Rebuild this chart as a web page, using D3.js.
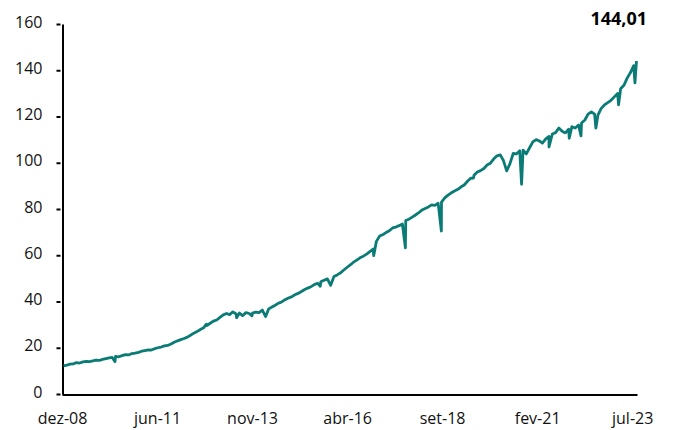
<!DOCTYPE html>
<html>
<head>
<meta charset="utf-8">
<script src="https://cdn.jsdelivr.net/npm/d3@7"></script>
<style>
  body { margin: 0; background: #fff; }
  svg { display: block; font-family: "Open Sans", "Noto Sans", sans-serif; }
</style>
</head>
<body>
<svg id="chart" width="674" height="430"></svg>
<script>
// Monthly values, one per month starting Dec 2008 (plotted mid-month)
const startMonth = "2008-12";
const monthlyValues = [
  12.2,12.5,12.9,13.0,13.6,13.4,13.9,14.1,14.0,14.3,14.6,14.5,15.0,15.3,
  15.6,15.8,16.3,16.1,16.6,17.0,16.9,17.5,17.7,18.0,18.5,
  18.8,19.1,19.0,19.6,20.0,20.3,20.8,21.0,21.6,22.4,
  23.0,23.5,24.0,24.6,25.4,
  26.3,27.0,27.9,28.6,29.6,
  30.6,31.5,32.0,33.1,34.2,
  34.8,34.3,35.5,34.6,35.0,33.9,35.2,34.8,35.0,35.4,35.2,
  36.3,33.5,36.8,37.6,38.4,39.3,39.8,40.8,41.5,
  42.0,42.9,43.5,44.3,45.2,
  45.8,46.4,47.3,47.9,48.5,
  49.2,49.8,47.0,50.8,51.5,
  52.4,53.6,54.7,55.8,57.0,
  57.9,58.9,59.6,60.5,61.6,62.7,
  66.0,68.3,69.0,69.8,70.6,71.8,72.2,72.8,
  73.5,75.0,75.6,76.5,77.4,78.4,79.6,80.2,80.9,
  81.8,81.6,82.5,83.0,84.8,86.0,87.0,87.8,
  88.5,89.6,90.4,92.0,93.3,94.6,96.0,
  96.6,97.5,99.0,99.8,101.6,103.0,103.4,101.0,96.5,99.5,104.0,
  103.8,105.2,105.5,103.8,106.5,109.0,110.0,
  109.4,108.5,110.3,111.4,112.4,113.0,115.0,
  113.6,112.9,114.5,115.6,115.0,116.3,117.2,118.5,
  121.0,122.0,121.0,120.6,123.5,125.0,126.0,127.0,
  128.5,130.0,132.0,133.5,136.6,139.0,142.0,144.01
];
// One-day drops
const spikeDates = [
  "2010-04-10","2012-08-10","2013-05-20","2013-10-10","2015-07-10","2016-11-20",
  "2017-09-12","2018-08-14","2019-06-10","2020-09-01","2021-05-15","2021-11-20",
  "2022-03-10","2022-07-27","2023-02-24","2023-07-27"
];
const spikeValues = [
  14.0, 30.2, 33.0, 33.8, 46.6, 59.8,
  63.2, 70.5, 93.4, 90.7, 106.8, 110.6,
  111.6, 115.0, 125.0, 134.5
];

const tickLabels = ["dez-08","jun-11","nov-13","abr-16","set-18","fev-21","jul-23"];
const firstTickDate = "2008-12-01";
const lastTickDate = "2023-07-01";
const yTicks = [0,20,40,60,80,100,120,140,160];
const lastValueLabel = "144,01";

const parse = d3.timeParse("%Y-%m-%d");
const base = d3.timeParse("%Y-%m")(startMonth);
const series = monthlyValues.map((v, i) => {
  const d = d3.timeMonth.offset(base, i);
  d.setDate(15);
  if (i === monthlyValues.length - 1) d.setDate(10);
  return { date: d, value: v };
});
spikeDates.forEach((s, i) => series.push({ date: parse(s), value: spikeValues[i] }));
series.sort((a, b) => a.date - b.date);

const svg = d3.select("#chart");
const x = d3.scaleTime()
  .domain([parse("2008-12-01"), parse("2023-08-15")])
  .range([62, 637]);
const y = d3.scaleLinear().domain([0, 160]).range([394, 24]);

// tick positions: equally spaced between the first and last labels
const t0 = parse(firstTickDate).getTime(), t1 = parse(lastTickDate).getTime();
const tickDates = tickLabels.map((_, i) => new Date(t0 + i * (t1 - t0) / (tickLabels.length - 1)));

// Y axis
const yAxis = svg.append("g").attr("transform", "translate(62.5,0)")
  .call(d3.axisLeft(y).tickValues(yTicks).tickSize(6).tickSizeOuter(0).tickPadding(14));
yAxis.select(".domain").attr("stroke", "#000").attr("stroke-width", 2);
yAxis.selectAll(".tick line").attr("stroke", "#000").attr("stroke-width", 2).attr("x1", -2);
yAxis.selectAll(".tick text").attr("font-size", 16).attr("fill", "#111").attr("dy", "0.2em")
  .attr("font-family", "'Open Sans', sans-serif");

// X axis
const xAxis = svg.append("g").attr("transform", "translate(0,394.5)")
  .call(d3.axisBottom(x).tickValues(tickDates).tickSize(0).tickSizeOuter(0).tickPadding(18)
    .tickFormat((d, i) => tickLabels[i]));
xAxis.select(".domain").attr("stroke", "#000").attr("stroke-width", 2);
xAxis.selectAll(".tick text").attr("font-size", 16).attr("fill", "#111")
  .attr("font-family", "'Open Sans', sans-serif");

// Line
const line = d3.line().x(d => x(d.date)).y(d => y(d.value));
svg.append("path").datum(series)
  .attr("fill", "none")
  .attr("stroke", "#0b7b75")
  .attr("stroke-width", 2.8)
  .attr("stroke-linejoin", "round")
  .attr("d", line);

// Last value label
svg.append("text")
  .attr("x", 647).attr("y", 25)
  .attr("text-anchor", "end")
  .attr("font-size", 18).attr("font-weight", "bold").attr("fill", "#000")
  .text(lastValueLabel);
</script>
</body>
</html>
